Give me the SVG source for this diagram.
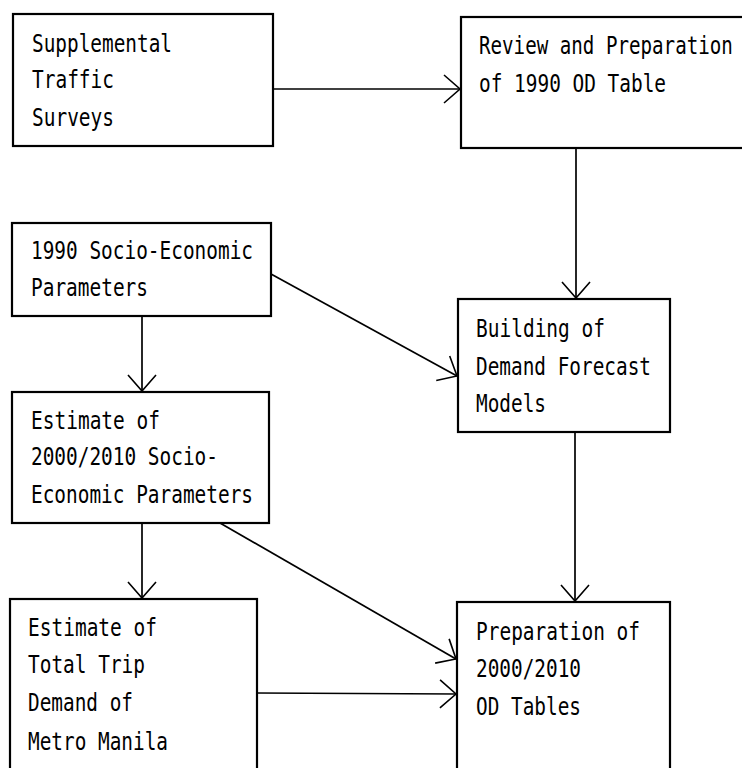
<svg xmlns="http://www.w3.org/2000/svg" width="742" height="768" viewBox="0 0 742 768">
<defs>
<marker id="arr" markerUnits="userSpaceOnUse" markerWidth="40" markerHeight="40" refX="0" refY="0" viewBox="-20 -20 40 40" orient="auto" overflow="visible">
<path d="M -16 -14 L 0 0 L -16 14" fill="none" stroke="#000" stroke-width="1.6"/>
</marker>
</defs>
<style>
.box{fill:#fff;stroke:#000;stroke-width:2.2}
.t{font-family:"DejaVu Sans Mono","Liberation Mono",monospace;font-size:25.5px;fill:#000}
.c{fill:none;stroke:#000;stroke-width:1.7;marker-end:url(#arr)}
</style>
<rect width="742" height="768" fill="#fff"/>
<g id="connectors">
<line class="c" x1="273" y1="89" x2="460" y2="89"/>
<line class="c" x1="576" y1="148" x2="576" y2="298"/>
<line class="c" x1="142" y1="316" x2="142" y2="391"/>
<line class="c" x1="271" y1="274" x2="457" y2="376"/>
<line class="c" x1="575" y1="432" x2="575" y2="601"/>
<line class="c" x1="142" y1="523" x2="142" y2="598"/>
<line class="c" x1="220" y1="523" x2="456" y2="659"/>
<line class="c" x1="257" y1="693" x2="456" y2="694"/>
</g>
<g id="n1">
<rect class="box" x="13" y="14" width="260" height="132"/>
<text class="t" x="32" y="52" textLength="140" lengthAdjust="spacingAndGlyphs">Supplemental</text>
<text class="t" x="32" y="88" textLength="82" lengthAdjust="spacingAndGlyphs">Traffic</text>
<text class="t" x="32" y="126" textLength="82" lengthAdjust="spacingAndGlyphs">Surveys</text>
</g>
<g id="n2">
<rect class="box" x="461" y="17" width="300" height="131"/>
<text class="t" transform="translate(479,54) scale(0.752,1)" x="0" y="0">Review and Preparation</text>
<text class="t" transform="translate(479,92) scale(0.762,1)" x="0" y="0">of 1990 OD Table</text>
</g>
<g id="n3">
<rect class="box" x="12" y="223" width="259" height="93"/>
<text class="t" x="31" y="259" textLength="222" lengthAdjust="spacingAndGlyphs">1990 Socio-Economic</text>
<text class="t" x="31" y="296" textLength="117" lengthAdjust="spacingAndGlyphs">Parameters</text>
</g>
<g id="n4">
<rect class="box" x="458" y="299" width="212" height="133"/>
<text class="t" x="476" y="337" textLength="129" lengthAdjust="spacingAndGlyphs">Building of</text>
<text class="t" x="476" y="375" textLength="175" lengthAdjust="spacingAndGlyphs">Demand Forecast</text>
<text class="t" x="476" y="412" textLength="70" lengthAdjust="spacingAndGlyphs">Models</text>
</g>
<g id="n5">
<rect class="box" x="12" y="392" width="257" height="131"/>
<text class="t" x="31" y="429" textLength="129" lengthAdjust="spacingAndGlyphs">Estimate of</text>
<text class="t" x="31" y="465" textLength="187" lengthAdjust="spacingAndGlyphs">2000/2010 Socio-</text>
<text class="t" x="31" y="503" textLength="222" lengthAdjust="spacingAndGlyphs">Economic Parameters</text>
</g>
<g id="n6">
<rect class="box" x="10" y="599" width="247" height="190"/>
<text class="t" x="28" y="636" textLength="129" lengthAdjust="spacingAndGlyphs">Estimate of</text>
<text class="t" x="28" y="673" textLength="117" lengthAdjust="spacingAndGlyphs">Total Trip</text>
<text class="t" x="28" y="711" textLength="105" lengthAdjust="spacingAndGlyphs">Demand of</text>
<text class="t" x="28" y="750" textLength="140" lengthAdjust="spacingAndGlyphs">Metro Manila</text>
</g>
<g id="n7">
<rect class="box" x="457" y="602" width="213" height="190"/>
<text class="t" x="476" y="640" textLength="164" lengthAdjust="spacingAndGlyphs">Preparation of</text>
<text class="t" x="476" y="677" textLength="105" lengthAdjust="spacingAndGlyphs">2000/2010</text>
<text class="t" x="476" y="715" textLength="105" lengthAdjust="spacingAndGlyphs">OD Tables</text>
</g>
</svg>
